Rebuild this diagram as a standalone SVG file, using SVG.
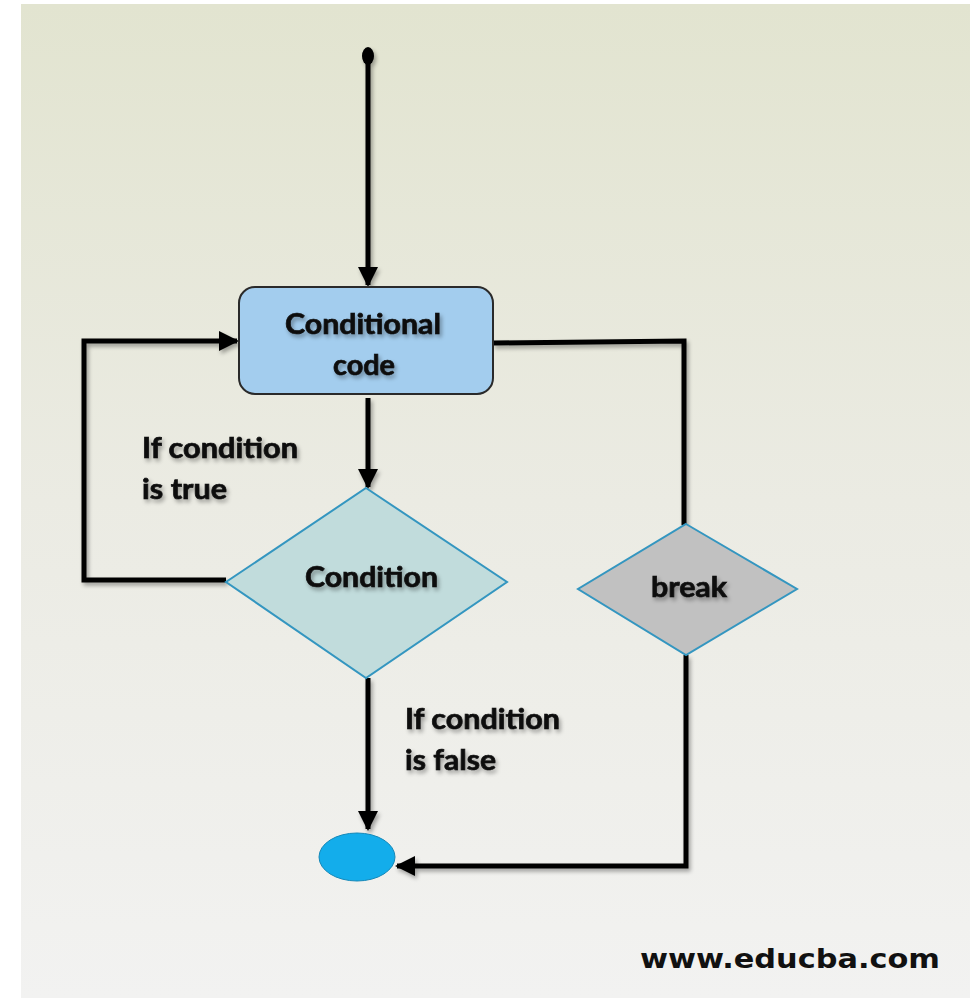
<svg xmlns="http://www.w3.org/2000/svg" width="979" height="998" viewBox="0 0 979 998">
  <defs>
    <linearGradient id="bg" x1="0" y1="0" x2="0" y2="1">
      <stop offset="0" stop-color="#e2e4d0"/>
      <stop offset="0.5" stop-color="#ebebe3"/>
      <stop offset="1" stop-color="#f2f2f1"/>
    </linearGradient>
    <filter id="soft" x="-10%" y="-20%" width="130%" height="160%">
      <feGaussianBlur in="SourceAlpha" stdDeviation="2"/>
      <feOffset dx="2" dy="3" result="b"/>
      <feComponentTransfer><feFuncA type="linear" slope="0.35"/></feComponentTransfer>
      <feMerge><feMergeNode/><feMergeNode in="SourceGraphic"/></feMerge>
    </filter>
    <marker id="arrow" viewBox="0 0 10 10" refX="9" refY="5" markerWidth="4" markerHeight="4" orient="auto" markerUnits="strokeWidth">
      <path d="M0,0 L10,5 L0,10 Z" fill="#000"/>
    </marker>
    <style>
      .lbl { font-family: Lato, "Open Sans", "Liberation Sans", sans-serif; font-weight: bold; font-size: 28px; fill: #111; stroke: #111; stroke-width: 0.7; }
      .mid { text-anchor: middle; }
      .wire { fill: none; stroke: #000; stroke-width: 5; stroke-linejoin: miter; }
    </style>
  </defs>

  <rect x="0" y="0" width="979" height="998" fill="#ffffff"/>
  <rect x="21" y="4" width="949" height="994" fill="url(#bg)"/>

  <!-- connectors -->
  <g id="connectors" filter="url(#soft)">
    <ellipse cx="368" cy="56" rx="6" ry="9" fill="#000"/>
    <path class="wire" d="M368,60 V285" marker-end="url(#arrow)"/>
    <path class="wire" d="M368,398 V487" marker-end="url(#arrow)"/>
    <path class="wire" d="M226,580 H84 V341 H237" marker-end="url(#arrow)"/>
    <path class="wire" d="M493,343 L684,341 V525"/>
    <path class="wire" d="M368,678 V829" marker-end="url(#arrow)"/>
    <path class="wire" d="M686,655 V866 H397" marker-end="url(#arrow)"/>
  </g>

  <g id="conditional-code">
    <rect x="239" y="287" width="254" height="107" rx="16" ry="16" fill="#a3cdee" stroke="#2a2a2a" stroke-width="2"/>
    <text class="lbl" x="285" y="334" textLength="156" lengthAdjust="spacingAndGlyphs" filter="url(#soft)">Conditional</text>
    <text class="lbl" x="333" y="375" textLength="62" lengthAdjust="spacingAndGlyphs" filter="url(#soft)">code</text>
  </g>

  <g id="condition">
    <polygon points="366,488 507,582 366,678 226,582" fill="#c1dcdc" stroke="#3496c0" stroke-width="2"/>
    <text class="lbl" x="305" y="587" textLength="133" lengthAdjust="spacingAndGlyphs" filter="url(#soft)">Condition</text>
  </g>

  <g id="break">
    <polygon points="686,524 797,589 686,655 578,589" fill="#c1c1c1" stroke="#3496c0" stroke-width="2"/>
    <text class="lbl" x="651" y="597" textLength="76" lengthAdjust="spacingAndGlyphs" filter="url(#soft)">break</text>
  </g>

  <g id="end">
    <ellipse cx="357" cy="857" rx="38" ry="24" fill="#13adeb" stroke="#1688b8" stroke-width="1"/>
  </g>

  <g id="label-true">
    <text class="lbl" x="142" y="458" textLength="156" lengthAdjust="spacingAndGlyphs" filter="url(#soft)">If condition</text>
    <text class="lbl" x="142" y="499" textLength="85" lengthAdjust="spacingAndGlyphs" filter="url(#soft)">is true</text>
  </g>

  <g id="label-false">
    <text class="lbl" x="405" y="729" textLength="155" lengthAdjust="spacingAndGlyphs" filter="url(#soft)">If condition</text>
    <text class="lbl" x="405" y="770" textLength="91" lengthAdjust="spacingAndGlyphs" filter="url(#soft)">is false</text>
  </g>

  <text x="640" y="968" textLength="300" lengthAdjust="spacingAndGlyphs" style="font-family: 'DejaVu Sans', Verdana, sans-serif; font-weight: bold; font-size: 27px; fill: #111;">www.educba.com</text>
</svg>
